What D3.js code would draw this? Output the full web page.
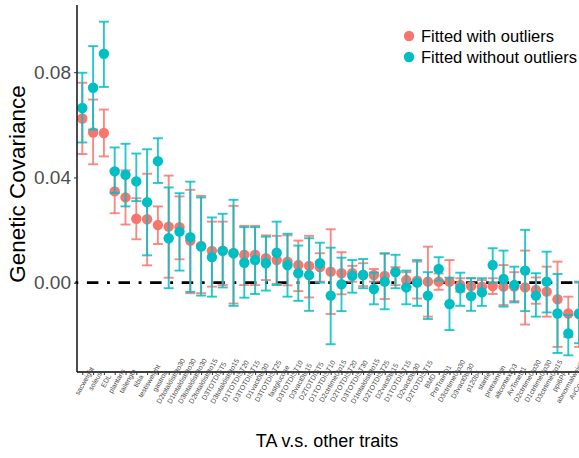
<!DOCTYPE html>
<html><head><meta charset="utf-8">
<script src="https://cdn.jsdelivr.net/npm/d3@7"></script>
<style>body{margin:0;background:#fff}svg{display:block}</style>
</head><body><svg id="chart" width="579" height="458"></svg>
<script>
const categories = ["sacweight","soleus","EDL","plantaris","tailength","tibia","testisweight","gastroc",
"D2totaldist0to30","D1totaldist0to30","D3totaldist0to30","D2totaldist0to15","D3TOTDIST5","D3totaldist0to15",
"D1TOTDIST20","D3TOTDIST15","D1vact0to30","D3TOTDIST25","fastglucose","D3TOTDIST10","D3vact0to15",
"D2TOTDIST5","D1TOTDIST10","D2ctrtime0to15","D2TOTDIST20","D3TOTDIST30","D1totaldist0to15","D2TOTDIST25",
"D2vact0to15","D1TOTDIST15","D2vact0to30","D2TOTDIST15","BMD","PreTrainD1","D3ctrtime0to30","D3vact0to30",
"p120b4","startle","pretrainmin","altcontextD3","AvToneD1","D2ctrtime0to30","D1ctrtime0to30","D3ctrtime0to15",
"ppi6PP","abnormalweight","AvContextD2"];

const withVal = [0.0624,0.0571,0.0569,0.0347,0.0324,0.0243,0.0241,0.0219,0.0213,0.0211,0.0160,0.0140,0.0121,0.0122,
0.0113,0.0106,0.0106,0.0093,0.0086,0.0080,0.0067,0.0064,0.0059,0.0042,0.0036,0.0036,0.0030,0.0029,0.0026,0.0042,
0.0010,0.0008,0.0004,0.0004,0.0004,-0.0009,-0.0013,-0.0015,-0.0013,-0.0015,-0.0015,-0.0018,-0.0028,-0.0034,-0.0063,-0.0117,-0.0120];
const withHi = [0.0760,0.0696,0.0658,0.0430,0.0427,0.0321,0.0414,0.0290,0.0407,0.0328,0.0353,0.0330,0.0232,0.0232,
0.0292,0.0216,0.0216,0.0180,0.0178,0.0180,0.0160,0.0178,0.0112,0.0203,0.0116,0.0064,0.0074,0.0052,0.0110,0.0059,
0.0040,0.0080,0.0137,0.0035,0.0086,0.0017,0.0017,0.0010,0.0017,0.0067,0.0040,0.0122,0.0020,0.0061,0.0080,-0.0053,0.0000];
const withLo = [0.0489,0.0450,0.0480,0.0264,0.0221,0.0165,0.0066,0.0147,0.0019,0.0089,-0.0040,-0.0040,-0.0015,-0.0009,
-0.0079,-0.0009,-0.0009,0.0010,-0.0005,-0.0010,-0.0032,-0.0056,0.0004,-0.0119,-0.0044,0.0004,-0.0013,0.0004,-0.0062,-0.0009,
-0.0015,-0.0060,-0.0129,-0.0027,-0.0081,-0.0034,-0.0043,-0.0040,-0.0043,-0.0085,-0.0070,-0.0159,-0.0080,-0.0129,-0.0244,-0.0206,-0.0244];

const withoutVal = [0.0664,0.0741,0.0870,0.0423,0.0410,0.0385,0.0306,0.0462,0.0169,0.0194,0.0173,0.0137,0.0097,0.0121,
0.0112,0.0076,0.0086,0.0074,0.0114,0.0067,0.0036,0.0029,0.0074,-0.0049,-0.0006,0.0026,0.0029,-0.0024,0.0004,0.0040,
-0.0018,0.0000,-0.0049,0.0052,-0.0081,-0.0021,-0.0051,-0.0037,0.0067,0.0014,-0.0009,0.0046,-0.0049,0.0004,-0.0117,-0.0193,-0.0117];
const withoutHi = [0.0798,0.0899,0.0992,0.0514,0.0528,0.0491,0.0507,0.0549,0.0362,0.0340,0.0384,0.0324,0.0248,0.0262,
0.0315,0.0211,0.0211,0.0175,0.0232,0.0186,0.0141,0.0169,0.0152,0.0133,0.0095,0.0086,0.0090,0.0038,0.0112,0.0106,
0.0046,0.0086,0.0040,0.0097,0.0019,0.0038,0.0017,0.0017,0.0131,0.0122,0.0061,0.0201,0.0036,0.0118,0.0033,-0.0123,0.0004];
const withoutLo = [0.0533,0.0582,0.0744,0.0341,0.0290,0.0310,0.0104,0.0379,-0.0021,0.0046,-0.0035,-0.0049,-0.0053,-0.0018,
-0.0088,-0.0057,-0.0043,-0.0030,-0.0009,-0.0053,-0.0069,-0.0107,0.0000,-0.0234,-0.0108,-0.0038,-0.0021,-0.0082,-0.0101,-0.0021,
-0.0082,-0.0088,-0.0138,0.0008,-0.0180,-0.0088,-0.0107,-0.0088,0.0001,-0.0091,-0.0075,-0.0108,-0.0129,-0.0113,-0.0267,-0.0276,-0.0230];

const seriesNames = ["Fitted with outliers","Fitted without outliers"];
const colors = ["#F8766D","#00BFC4"];
const yTicks = [0.00,0.04,0.08];

const series = [
  categories.map((c,i)=>({c, v:withVal[i], hi:withHi[i], lo:withLo[i]})),
  categories.map((c,i)=>({c, v:withoutVal[i], hi:withoutHi[i], lo:withoutLo[i]}))
];

const svg = d3.select("#chart");
const font = "'Liberation Sans', Arial, Helvetica, sans-serif";
const panel = {left:77, top:5, bottom:372, right:579};

const allVals = withHi.concat(withLo, withoutHi, withoutLo);
const ymin = d3.min(allVals), ymax = d3.max(allVals), pad = (ymax-ymin)*0.05;
const y = d3.scaleLinear().domain([ymin-pad, ymax+pad]).range([panel.bottom, panel.top]);
const x = d3.scalePoint().domain(categories).range([82.3, 82.3 + 10.8*(categories.length-1)]);

// zero line
svg.append("line")
  .attr("x1", 75.4).attr("x2", panel.right)
  .attr("y1", y(0)).attr("y2", y(0))
  .attr("stroke","#000").attr("stroke-width",2.8)
  .attr("stroke-dasharray","2.9,8.6,11.5,8.6");

const capW = 10;
series.forEach((s,k)=>{
  const g = svg.append("g");
  g.selectAll("circle").data(s).enter().append("circle")
    .attr("cx", d=>x(d.c)).attr("cy", d=>y(d.v)).attr("r",5.2)
    .attr("fill", colors[k]);
  const eb = g.selectAll("g.eb").data(s).enter().append("g")
    .attr("stroke", colors[k]).attr("stroke-width",1.9).attr("stroke-opacity",0.85);
  eb.append("line").attr("x1",d=>x(d.c)).attr("x2",d=>x(d.c)).attr("y1",d=>y(d.hi)).attr("y2",d=>y(d.lo));
  eb.append("line").attr("x1",d=>x(d.c)-capW/2).attr("x2",d=>x(d.c)+capW/2).attr("y1",d=>y(d.hi)).attr("y2",d=>y(d.hi));
  eb.append("line").attr("x1",d=>x(d.c)-capW/2).attr("x2",d=>x(d.c)+capW/2).attr("y1",d=>y(d.lo)).attr("y2",d=>y(d.lo));
});

// y axis
const yAxis = svg.append("g").attr("transform",`translate(${panel.left},0)`)
  .call(d3.axisLeft(y).tickValues(yTicks).tickFormat(d3.format(".2f")).tickSize(3).tickPadding(3));
yAxis.select(".domain").attr("stroke","#000").attr("stroke-width",1.4)
  .attr("d",`M0,${panel.top}V${panel.bottom}`);
yAxis.selectAll(".tick line").attr("stroke","#333").attr("stroke-width",1);
yAxis.selectAll(".tick text").attr("fill","#4D4D4D").attr("font-size","19px").attr("font-family",font);

// x axis
const xAxis = svg.append("g").attr("transform",`translate(0,${panel.bottom})`)
  .call(d3.axisBottom(x).tickSize(3).tickSizeOuter(0));
xAxis.select(".domain").attr("stroke","#000").attr("stroke-width",1.4)
  .attr("d",`M${panel.left},0H${panel.right}`);
xAxis.selectAll(".tick line").attr("stroke","#333").attr("stroke-width",1);
xAxis.selectAll(".tick text")
  .attr("fill","#4D4D4D").attr("font-size","7px").attr("font-family",font)
  .attr("text-anchor","middle").attr("dy",null).attr("y",null)
  .attr("dominant-baseline","central")
  .attr("transform","translate(1.5,9) rotate(-60)");

// titles
svg.append("text").attr("x",327).attr("y",447).attr("text-anchor","middle")
  .attr("font-family",font).attr("font-size","18px").attr("fill","#000").text("TA v.s. other traits");
svg.append("text").attr("transform","translate(25,184) rotate(-90)").attr("text-anchor","middle")
  .attr("font-family",font).attr("font-size","22.5px").attr("fill","#000").text("Genetic Covariance");

// legend
const leg = svg.append("g");
seriesNames.forEach((n,k)=>{
  leg.append("circle").attr("cx",409).attr("cy",36+21*k).attr("r",5.2).attr("fill",colors[k]);
  leg.append("text").attr("x",421).attr("y",36+21*k).attr("dominant-baseline","central")
    .attr("font-family",font).attr("font-size","16.5px").attr("fill","#000").text(n);
});
</script></body></html>
